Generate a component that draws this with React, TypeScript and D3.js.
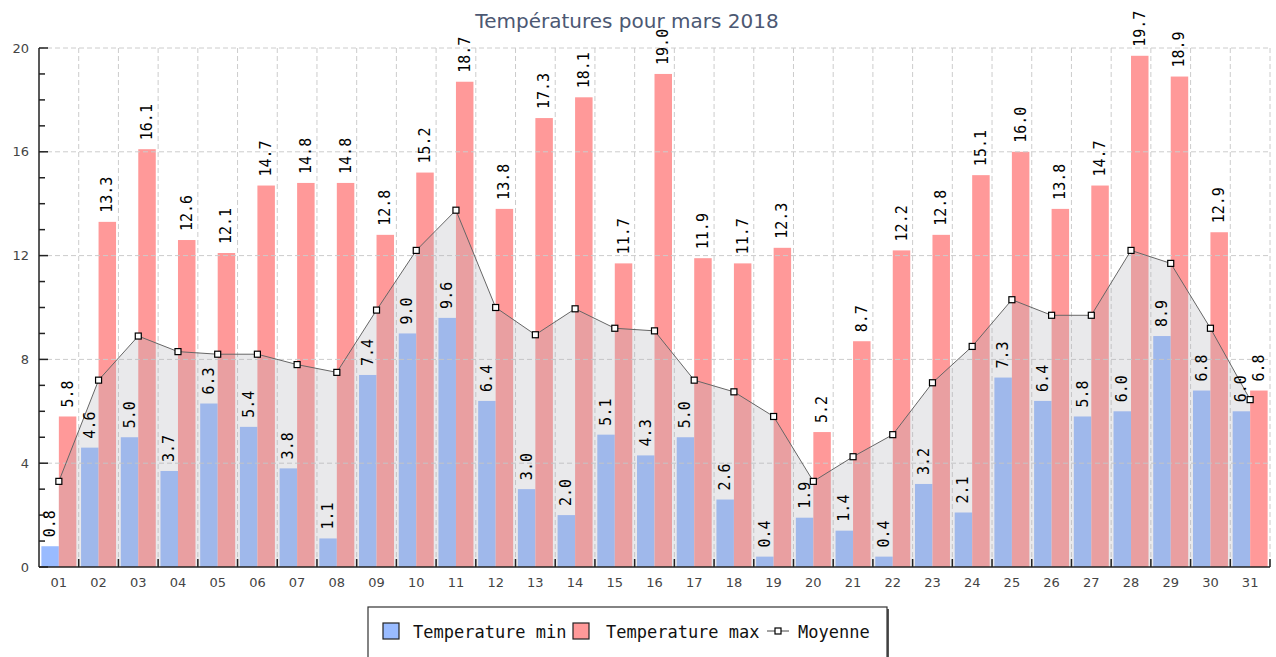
import { useMemo } from "react";
import * as d3 from "d3";

const days = ["01","02","03","04","05","06","07","08","09","10","11","12","13","14","15","16","17","18","19","20","21","22","23","24","25","26","27","28","29","30","31"];
const tempMin = [0.8,4.6,5.0,3.7,6.3,5.4,3.8,1.1,7.4,9.0,9.6,6.4,3.0,2.0,5.1,4.3,5.0,2.6,0.4,1.9,1.4,0.4,3.2,2.1,7.3,6.4,5.8,6.0,8.9,6.8,6.0];
const tempMax = [5.8,13.3,16.1,12.6,12.1,14.7,14.8,14.8,12.8,15.2,18.7,13.8,17.3,18.1,11.7,19.0,11.9,11.7,12.3,5.2,8.7,12.2,12.8,15.1,16.0,13.8,14.7,19.7,18.9,12.9,6.8];
const moyenne = [3.3,7.2,8.9,8.3,8.2,8.2,7.8,7.5,9.9,12.2,13.75,10.0,8.95,9.95,9.2,9.1,7.2,6.75,5.8,3.3,4.25,5.1,7.1,8.5,10.3,9.7,9.7,12.2,11.7,9.2,6.45];
const yTicks = [0, 4, 8, 12, 16, 20];
const minorTicks = d3.range(0, 21);

const W = 1276, H = 657;
const left = 39, right = 1270, top = 48, bottom = 567;
const mono = "'DejaVu Sans Mono', monospace";
const sans = "'DejaVu Sans', sans-serif";

export default function App() {
  const x = useMemo(() => d3.scaleBand<string>().domain(days).range([left, right]), []);
  const y = useMemo(() => d3.scaleLinear().domain([0, 20]).range([bottom, top]), []);
  const inner = d3.scaleBand<string>().domain(["min", "max"]).range([0, x.bandwidth()]).paddingOuter(0.135);
  const cx = (d: string) => (x(d) as number) + x.bandwidth() / 2;

  const area = d3.area<number>().x((_, i) => cx(days[i])).y0(bottom).y1(v => y(v));
  const line = d3.line<number>().x((_, i) => cx(days[i])).y(v => y(v));

  const grid = (
    <g stroke="#cccccc" strokeDasharray="5,3" strokeWidth={1}>
      {yTicks.filter(t => t > 0).map(t => (
        <line key={"h" + t} x1={left} x2={right} y1={y(t)} y2={y(t)} />
      ))}
      {days.map((d, i) => i > 0 ? (
        <line key={"v" + d} x1={x(d)} x2={x(d)} y1={top} y2={bottom} />
      ) : null)}
      <line x1={right} x2={right} y1={top} y2={bottom} />
    </g>
  );

  return (
    <svg width={W} height={H} style={{ position: "absolute", left: 0, top: 0, background: "#fff" }}>
      <text x={627} y={28} textAnchor="middle" fontFamily={sans} fontSize={20} fill="#4c5873">
        Températures pour mars 2018
      </text>

      {/* bars */}
      {days.map((d, i) => (
        <g key={"b" + d}>
          <rect x={(x(d) as number) + (inner("min") as number)} y={y(tempMin[i])} width={inner.bandwidth()} height={bottom - y(tempMin[i])} fill="#99bbff" />
          <rect x={(x(d) as number) + (inner("max") as number)} y={y(tempMax[i])} width={inner.bandwidth()} height={bottom - y(tempMax[i])} fill="#ff9999" />
        </g>
      ))}

      {grid}

      {/* moyenne area + line */}
      <path d={area(moyenne) as string} fill="#b1b1b8" fillOpacity={0.28} />
      <path d={line(moyenne) as string} fill="none" stroke="#666" strokeWidth={1} />
      {moyenne.map((v, i) => (
        <rect key={"m" + i} x={cx(days[i]) - 3} y={y(v) - 3} width={6} height={6} fill="#fff" stroke="#000" strokeWidth={1.2} />
      ))}

      {/* value labels */}
      {days.map((d, i) => {
        const xm = (x(d) as number) + (inner("min") as number) + inner.bandwidth() / 2;
        const xM = (x(d) as number) + (inner("max") as number) + inner.bandwidth() / 2;
        return (
          <g key={"l" + d} fontFamily={mono} fontSize={15} fill="#000">
            <text transform={`translate(${xm},${y(tempMin[i]) - 9}) rotate(-90)`} dominantBaseline="central">{tempMin[i].toFixed(1)}</text>
            <text transform={`translate(${xM},${y(tempMax[i]) - 9}) rotate(-90)`} dominantBaseline="central">{tempMax[i].toFixed(1)}</text>
          </g>
        );
      })}

      {/* axes */}
      <g stroke="#222" strokeWidth={1.5}>
        <line x1={left} x2={left} y1={top} y2={bottom} />
        <line x1={left} x2={right} y1={bottom} y2={bottom} />
        {minorTicks.map(t => (
          <line key={"yt" + t} x1={left} x2={left + (t % 4 === 0 ? 9 : 6)} y1={y(t)} y2={y(t)} />
        ))}
        {days.map((d, i) => i > 0 ? (
          <line key={"xt" + d} x1={x(d)} x2={x(d)} y1={bottom} y2={bottom - 8} />
        ) : null)}
        <line x1={right} x2={right} y1={bottom} y2={bottom - 8} />
      </g>
      <g fontFamily={sans} fontSize={13} fill="#444">
        {yTicks.map(t => (
          <text key={"yl" + t} x={29} y={y(t)} textAnchor="end" dominantBaseline="central">{t}</text>
        ))}
        {days.map(d => (
          <text key={"xl" + d} x={cx(d)} y={587} textAnchor="middle">{d}</text>
        ))}
      </g>

      {/* legend */}
      <g>
        <rect x={370} y={609} width={519} height={52} fill="#555" />
        <rect x={368} y={607} width={519} height={52} fill="#fff" stroke="#333" strokeWidth={1.2} />
        <rect x={383} y={623} width={16} height={16} fill="#99bbff" stroke="#222" strokeWidth={1.2} />
        <text x={413} y={632} fontFamily={mono} fontSize={17} dominantBaseline="central" fill="#111">Temperature min</text>
        <rect x={573} y={623} width={16} height={16} fill="#ff9999" stroke="#222" strokeWidth={1.2} />
        <text x={606} y={632} fontFamily={mono} fontSize={17} dominantBaseline="central" fill="#111">Temperature max</text>
        <line x1={767} x2={789} y1={631} y2={631} stroke="#444" strokeWidth={1} />
        <rect x={775} y={628} width={6} height={6} fill="#fff" stroke="#000" strokeWidth={1.2} />
        <text x={798} y={632} fontFamily={mono} fontSize={17} dominantBaseline="central" fill="#111">Moyenne</text>
      </g>
    </svg>
  );
}
